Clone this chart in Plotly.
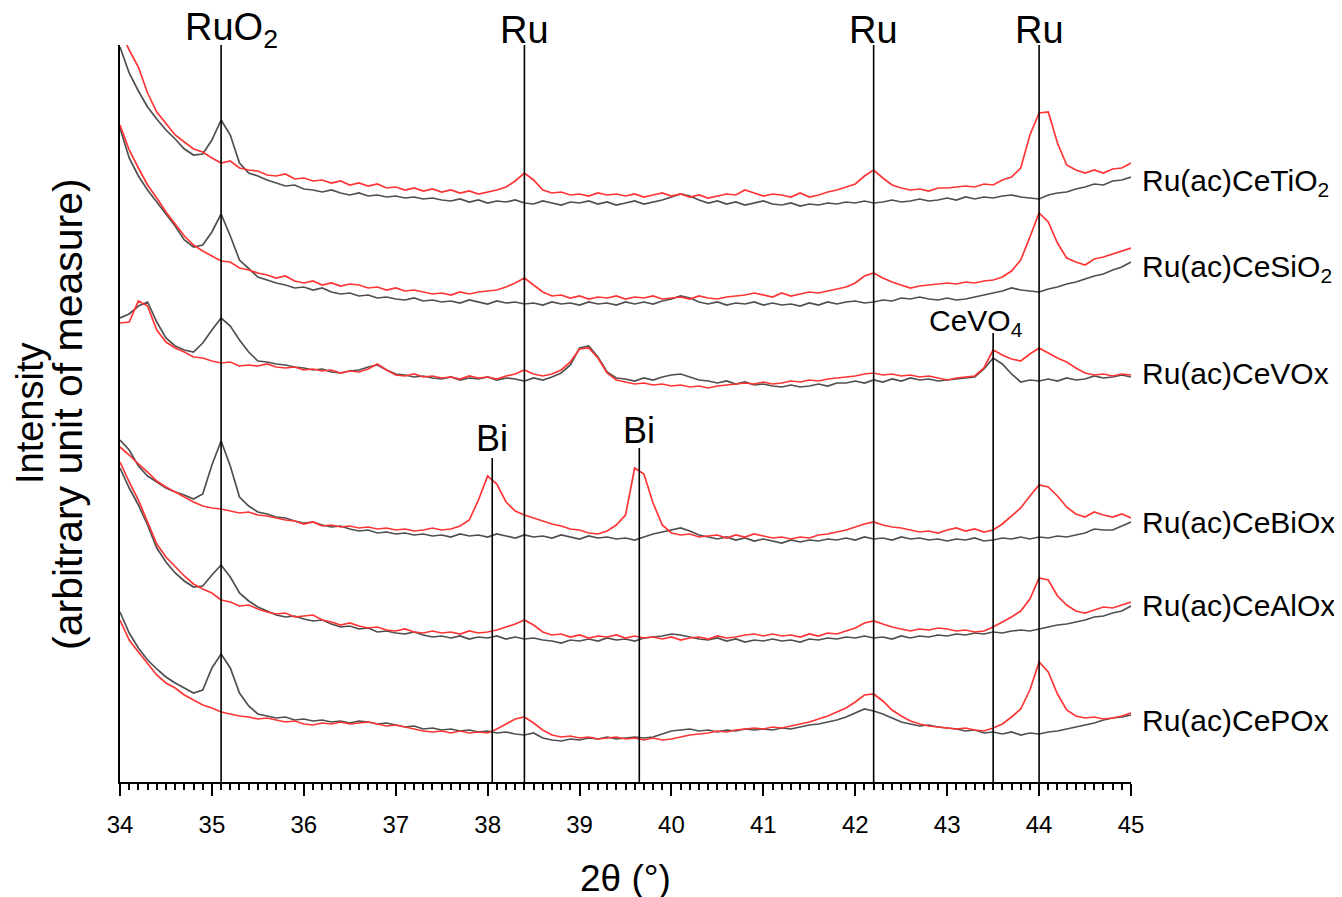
import plotly.graph_objects as go

two_theta = [34.0, 34.1, 34.2, 34.3, 34.4, 34.5, 34.6, 34.7, 34.8, 34.9,
             35.0, 35.1, 35.2, 35.3, 35.4, 35.5, 35.6, 35.7, 35.8, 35.9,
             36.0, 36.1, 36.2, 36.3, 36.4, 36.5, 36.6, 36.7, 36.8, 36.9,
             37.0, 37.1, 37.2, 37.3, 37.4, 37.5, 37.6, 37.7, 37.8, 37.9,
             38.0, 38.1, 38.2, 38.3, 38.4, 38.5, 38.6, 38.7, 38.8, 38.9,
             39.0, 39.1, 39.2, 39.3, 39.4, 39.5, 39.6, 39.7, 39.8, 39.9,
             40.0, 40.1, 40.2, 40.3, 40.4, 40.5, 40.6, 40.7, 40.8, 40.9,
             41.0, 41.1, 41.2, 41.3, 41.4, 41.5, 41.6, 41.7, 41.8, 41.9,
             42.0, 42.1, 42.2, 42.3, 42.4, 42.5, 42.6, 42.7, 42.8, 42.9,
             43.0, 43.1, 43.2, 43.3, 43.4, 43.5, 43.6, 43.7, 43.8, 43.9,
             44.0, 44.1, 44.2, 44.3, 44.4, 44.5, 44.6, 44.7, 44.8, 44.9,
             45.0]

# ---- Ru(ac)CeTiO2 ----
tio2_red = [752, 732, 715, 689, 670, 658, 647, 640, 633, 630,
            624, 619, 621, 614, 612, 611, 607, 606, 608, 603,
            604, 601, 602, 599, 601, 597, 599, 596, 598, 594,
            595, 592, 594, 591, 593, 590, 592, 589, 591, 588,
            590, 592, 595, 601, 609, 602, 592, 589, 590, 587,
            588, 586, 589, 587, 588, 586, 588, 585, 587, 589,
            586, 588, 585, 587, 584, 586, 588, 587, 592, 589,
            586, 588, 587, 585, 589, 585, 587, 590, 592, 595,
            598, 606, 612, 604, 597, 594, 592, 593, 591, 594,
            594, 595, 596, 595, 598, 597, 602, 605, 614, 647,
            669, 670, 639, 617, 612, 609, 612, 609, 613, 614,
            619]
tio2_gray = [735, 709, 691, 675, 663, 652, 643, 633, 627, 628,
             642, 662, 647, 619, 609, 606, 602, 599, 596, 597,
             593, 592, 590, 592, 589, 587, 589, 586, 587, 585,
             586, 584, 585, 583, 584, 582, 581, 583, 580, 582,
             579, 581, 580, 582, 579, 578, 581, 579, 577, 580,
             579, 581, 578, 580, 577, 579, 581, 578, 580, 582,
             585, 588, 586, 582, 579, 581, 578, 580, 577, 579,
             581, 578, 577, 579, 576, 578, 577, 579, 578, 580,
             579, 581, 579, 580, 582, 580, 581, 583, 581, 582,
             584, 582, 585, 583, 585, 584, 586, 587, 585, 584,
             583, 587, 589, 590, 593, 595, 598, 597, 601, 602,
             605]

# ---- Ru(ac)CeSiO2 ----
sio2_red = [657, 632, 614, 597, 584, 570, 558, 546, 537, 531,
            526, 521, 520, 514, 512, 509, 507, 504, 506, 501,
            499, 501, 497, 499, 496, 498, 497, 494, 495, 492,
            494, 491, 492, 490, 488, 489, 487, 490, 488, 490,
            491, 492, 495, 499, 504, 497, 490, 486, 487, 484,
            486, 483, 485, 484, 486, 483, 485, 484, 486, 483,
            484, 485, 483, 486, 484, 483, 485, 486, 487, 489,
            487, 485, 489, 486, 488, 490, 489, 491, 493, 495,
            499, 506, 509, 504, 500, 497, 494, 496, 497, 498,
            499, 498, 500, 499, 501, 502, 505, 511, 522, 545,
            569, 560, 539, 524, 520, 517, 523, 525, 528, 531,
            534]
sio2_gray = [654, 624, 606, 592, 580, 568, 556, 542, 535, 537,
             550, 568, 546, 522, 513, 505, 502, 499, 497, 494,
             495, 492, 494, 490, 488, 489, 486, 487, 484, 485,
             483, 482, 484, 481, 482, 480, 481, 479, 482, 480,
             478, 481, 479, 480, 478, 479, 477, 480, 478, 479,
             477, 480, 478, 479, 477, 480, 478, 480, 478, 481,
             483, 486, 484, 480, 478, 480, 477, 479, 478, 480,
             477, 479, 477, 478, 476, 479, 477, 480, 478, 480,
             481, 479, 480, 482, 481, 484, 483, 485, 483, 482,
             484, 482, 483, 485, 487, 489, 491, 494, 492, 491,
             490, 493, 495, 498, 500, 503, 506, 508, 512, 515,
             520]

# ---- Ru(ac)CeVOx ----
vox_red = [459, 460, 481, 476, 452, 440, 434, 430, 425, 424,
           421, 419, 420, 416, 417, 416, 418, 415, 414, 415,
           412, 413, 411, 412, 409, 411, 410, 413, 418, 412,
           407, 406, 408, 405, 406, 404, 405, 403, 406, 404,
           405, 403, 406, 408, 412, 408, 406, 408, 412, 420,
           433, 434, 424, 409, 402, 400, 398, 399, 397, 398,
           396, 397, 395, 396, 394, 396, 397, 398, 399, 398,
           400, 398, 399, 401, 400, 402, 401, 403, 404, 405,
           406, 408, 409, 407, 408, 406, 407, 405, 406, 404,
           402, 404, 405, 406, 414, 432, 427, 423, 421, 428,
           434, 429, 424, 420, 414, 409, 407, 408, 406, 408,
           407]
vox_gray = [464, 468, 476, 480, 460, 444, 436, 432, 430, 439,
            452, 464, 456, 442, 430, 421, 420, 418, 417, 415,
            414, 412, 413, 410, 409, 411, 412, 415, 417, 412,
            408, 407, 405, 406, 404, 403, 405, 402, 404, 403,
            405, 402, 404, 403, 401, 404, 402, 405, 409, 417,
            434, 436, 425, 410, 404, 403, 401, 404, 402, 405,
            407, 408, 405, 402, 401, 399, 401, 398, 400, 397,
            398, 396, 395, 397, 395, 396, 398, 396, 399, 399,
            401, 399, 402, 400, 403, 401, 404, 402, 403, 401,
            402, 403, 404, 405, 413, 424, 418, 408, 400, 402,
            401, 403, 401, 404, 402, 403, 406, 404, 405, 407,
            405]

# ---- Ru(ac)CeBiOx ----
biox_red = [335, 327, 318, 310, 301, 295, 290, 285, 280, 276,
            274, 273, 271, 269, 270, 267, 266, 264, 262, 261,
            258, 260, 256, 257, 255, 256, 254, 255, 253, 254,
            252, 253, 251, 252, 254, 252, 253, 256, 262, 282,
            306, 298, 280, 271, 267, 264, 261, 258, 256, 253,
            252, 249, 248, 251, 257, 267, 314, 308, 279, 257,
            249, 247, 248, 245, 246, 247, 244, 247, 245, 248,
            246, 244, 245, 243, 245, 244, 247, 248, 250, 252,
            255, 258, 260, 257, 255, 254, 252, 250, 251, 249,
            252, 254, 251, 253, 250, 252, 258, 266, 274, 286,
            297, 295, 286, 275, 268, 265, 270, 267, 265, 268,
            264]
biox_gray = [342, 332, 316, 306, 300, 294, 290, 287, 283, 288,
             317, 341, 316, 285, 276, 270, 268, 265, 264, 261,
             259, 260, 257, 255, 256, 253, 251, 252, 249, 250,
             248, 249, 247, 248, 246, 247, 245, 248, 246, 247,
             245, 248, 246, 244, 247, 245, 246, 244, 247, 245,
             243, 246, 244, 245, 243, 244, 242, 245, 248, 250,
             252, 254, 251, 247, 245, 243, 245, 242, 244, 241,
             243, 241, 239, 242, 240, 242, 241, 243, 242, 244,
             242, 245, 243, 244, 242, 245, 243, 244, 242, 243,
             241, 243, 242, 244, 241, 242, 244, 243, 245, 243,
             245, 244, 246, 245, 247, 249, 253, 252, 252, 256,
             260]

# ---- Ru(ac)CeAlOx ----
alox_red = [320, 300, 282, 260, 238, 225, 215, 206, 198, 193,
            189, 182, 180, 176, 177, 173, 170, 168, 169, 165,
            166, 167, 162, 160, 157, 159, 156, 154, 155, 152,
            151, 153, 150, 149, 151, 149, 150, 148, 151, 149,
            150, 152, 155, 158, 162, 157, 150, 147, 148, 145,
            147, 144, 146, 145, 147, 144, 146, 144, 145, 143,
            145, 142, 144, 145, 143, 146, 144, 145, 147, 148,
            146, 148, 146, 147, 145, 148, 146, 149, 148, 151,
            154, 159, 161, 158, 155, 153, 151, 153, 152, 154,
            153, 151, 152, 150, 151, 155, 160, 165, 171, 183,
            204, 202, 186, 177, 171, 169, 172, 175, 174, 177,
            180]
alox_gray = [314, 294, 277, 257, 234, 220, 209, 201, 195, 196,
             207, 217, 205, 189, 181, 175, 171, 167, 165, 166,
             163, 161, 162, 158, 155, 156, 153, 154, 150, 151,
             149, 148, 150, 147, 145, 146, 144, 146, 143, 145,
             144, 146, 143, 145, 143, 144, 142, 141, 139, 142,
             141, 143, 141, 144, 142, 143, 141, 144, 145, 146,
             148, 147, 145, 143, 142, 144, 141, 143, 140, 142,
             141, 143, 141, 142, 140, 143, 142, 144, 143, 145,
             144, 146, 144, 145, 143, 146, 144, 146, 145, 147,
             146, 148, 147, 149, 148, 150, 149, 151, 152, 151,
             153, 155, 157, 158, 160, 162, 165, 166, 169, 171,
             176]

# ---- Ru(ac)CePOx ----
pox_red = [162, 142, 130, 118, 107, 99, 94, 87, 82, 77,
           74, 70, 68, 66, 65, 63, 64, 62, 60, 61,
           58, 57, 59, 58, 60, 58, 59, 60, 58, 56,
           57, 55, 53, 51, 50, 51, 49, 51, 49, 50,
           49, 53, 58, 63, 65, 59, 52, 47, 45, 46,
           44, 45, 43, 44, 45, 43, 44, 42, 44, 42,
           43, 45, 47, 48, 49, 51, 50, 52, 53, 54,
           53, 55, 54, 56, 58, 60, 63, 66, 70, 74,
           80, 87, 88, 81, 72, 66, 61, 58, 56, 55,
           54, 53, 54, 52, 51, 54, 58, 65, 73, 92,
           120, 110, 88, 72, 66, 64, 65, 63, 64, 66,
           69]
pox_gray = [170, 149, 134, 122, 113, 105, 99, 94, 89, 92,
            114, 128, 114, 89, 76, 68, 66, 64, 65, 62,
            63, 61, 62, 60, 61, 59, 61, 60, 58, 59,
            57, 55, 56, 53, 54, 52, 53, 51, 52, 50,
            51, 49, 50, 48, 47, 49, 44, 42, 41, 43,
            42, 44, 43, 45, 43, 44, 45, 44, 45, 48,
            51, 52, 53, 51, 52, 50, 52, 51, 53, 52,
            53, 52, 54, 53, 55, 57, 58, 60, 62, 65,
            69, 73, 71, 68, 64, 60, 58, 56, 57, 55,
            54, 53, 51, 52, 49, 50, 48, 50, 47, 49,
            48, 50, 51, 53, 55, 57, 59, 62, 64, 65,
            67]

sample_names = ["Ru(ac)CeTiO<sub>2</sub>", "Ru(ac)CeSiO<sub>2</sub>", "Ru(ac)CeVOx",
                "Ru(ac)CeBiOx", "Ru(ac)CeAlOx", "Ru(ac)CePOx"]
red_series = [tio2_red, sio2_red, vox_red, biox_red, alox_red, pox_red]
gray_series = [tio2_gray, sio2_gray, vox_gray, biox_gray, alox_gray, pox_gray]
label_levels = [600, 514, 409, 260, 177, 62]

# full-height reference lines (RuO2, Ru, Ru, Ru)
top_phase_labels = ["RuO<sub>2</sub>", "Ru", "Ru", "Ru"]
top_phase_pos = [35.1, 38.4, 42.2, 44.0]
# partial reference lines (Bi, Bi, CeVO4)
inner_phase_labels = ["Bi", "Bi", "CeVO<sub>4</sub>"]
inner_phase_pos = [38.05, 39.65, 43.5]
inner_line_tops = [324, 334, 449]
inner_label_levels = [344, 352, 460]

tick_vals = [34, 35, 36, 37, 38, 39, 40, 41, 42, 43, 44, 45]
tick_text = ["34", "35", "36", "37", "38", "39", "40", "41", "42", "43", "44", "45"]

RED = "#ff3535"
GRAY = "#4f4f4f"
FONT = "Liberation Sans"

fig = go.Figure()
for name, g, r in zip(sample_names, gray_series, red_series):
    fig.add_trace(go.Scatter(x=two_theta, y=g, mode="lines",
                             line=dict(color=GRAY, width=1.7), name=name + " gray",
                             showlegend=False))
    fig.add_trace(go.Scatter(x=two_theta, y=r, mode="lines",
                             line=dict(color=RED, width=1.7), name=name + " red",
                             showlegend=False))

shapes = []
for p in top_phase_pos:
    shapes.append(dict(type="line", xref="x", yref="paper", x0=p, x1=p, y0=0, y1=1,
                       line=dict(color="black", width=1.6), layer="above"))
for p, t in zip(inner_phase_pos, inner_line_tops):
    shapes.append(dict(type="line", xref="x", yref="y", x0=p, x1=p, y0=0, y1=t,
                       line=dict(color="black", width=1.6), layer="above"))

annotations = []
for lab, p in zip(top_phase_labels, top_phase_pos):
    annotations.append(dict(text=lab, x=p, xref="x", y=1.0204, yref="paper",
                            xanchor="center", yanchor="middle", showarrow=False,
                            xshift=(10 if "sub" in lab else 0),
                            font=dict(size=38, color="black", family=FONT)))
for lab, p, lv in zip(inner_phase_labels, inner_phase_pos, inner_label_levels):
    annotations.append(dict(text=lab, x=p, xref="x", y=lv, yref="y",
                            xanchor="center", yanchor="middle", showarrow=False,
                            xshift=(-17 if "sub" in lab else 0),
                            font=dict(size=(30 if "sub" in lab else 36), color="black", family=FONT)))
for name, lv in zip(sample_names, label_levels):
    annotations.append(dict(text=name, x=1.009, xref="paper", y=lv, yref="y",
                            xanchor="left", yanchor="middle", showarrow=False,
                            font=dict(size=30, color="black", family=FONT)))
# axis titles
annotations.append(dict(text="Intensity", x=-0.0895, xref="paper", y=0.5, yref="paper",
                        textangle=-90, xanchor="center", yanchor="middle", showarrow=False,
                        font=dict(size=38, color="black", family=FONT)))
annotations.append(dict(text="(arbitrary unit of measure)", x=-0.052, xref="paper", y=0.5,
                        yref="paper", textangle=-90, xanchor="center", yanchor="middle",
                        showarrow=False, font=dict(size=41, color="black", family=FONT)))
annotations.append(dict(text="2θ (°)", x=0.5, xref="paper", y=-0.131, yref="paper",
                        xanchor="center", yanchor="middle", showarrow=False,
                        font=dict(size=37, color="black", family=FONT)))

# page body has an 8px margin, so the figure is offset by (8, 8)
fig.update_layout(
    width=1334, height=889,
    margin=dict(l=112, r=211, t=37, b=115),
    plot_bgcolor="white", paper_bgcolor="white",
    showlegend=False,
    font=dict(family=FONT, color="black"),
    shapes=shapes, annotations=annotations,
    xaxis=dict(range=[34, 45], showline=True, linewidth=2, linecolor="black",
               ticks="outside", ticklen=12, tickwidth=2, tickcolor="black",
               tickvals=tick_vals, ticktext=tick_text, tickfont=dict(size=24, family=FONT),
               showgrid=False, zeroline=False, ticklabelstandoff=8,
               minor=dict(dtick=0.1, ticks="outside", ticklen=6, tickwidth=1.5,
                          tickcolor="black", showgrid=False)),
    yaxis=dict(range=[0, 737], showline=True, linewidth=2, linecolor="black",
               ticks="", showticklabels=False, showgrid=False, zeroline=False),
)

fig.write_html("out.html")
